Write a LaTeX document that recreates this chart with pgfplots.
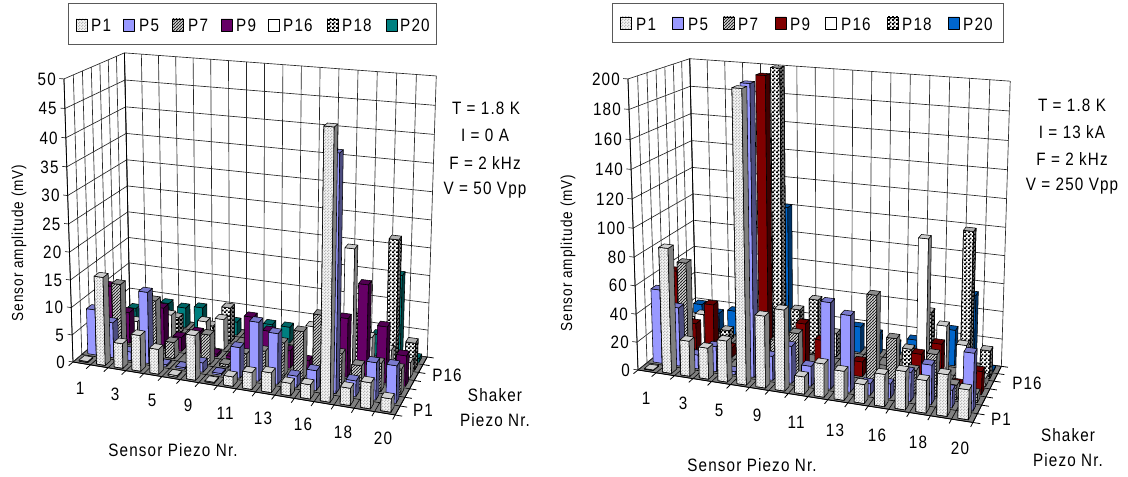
\documentclass[border=0pt]{standalone}
\usepackage{fontspec}
\setmainfont[FakeStretch=0.85,LetterSpace=6.4]{Liberation Sans}
\usepackage{pgfplots}
\pgfplotsset{compat=1.18}
\usetikzlibrary{patterns}
\pgfdeclarepatternformonly{bigcheck}{\pgfqpoint{0bp}{0bp}}{\pgfqpoint{4bp}{4bp}}{\pgfqpoint{4bp}{4bp}}{%
 \pgfpathrectangle{\pgfqpoint{0bp}{0bp}}{\pgfqpoint{2.1bp}{2.1bp}}%
 \pgfpathrectangle{\pgfqpoint{2bp}{2bp}}{\pgfqpoint{2.1bp}{2.1bp}}\pgfusepath{fill}}
\pgfdeclarepatternformonly{smallcheck}{\pgfqpoint{0bp}{0bp}}{\pgfqpoint{3bp}{3bp}}{\pgfqpoint{3bp}{3bp}}{%
 \pgfpathrectangle{\pgfqpoint{0bp}{0bp}}{\pgfqpoint{1.5bp}{1.5bp}}%
 \pgfpathrectangle{\pgfqpoint{1.5bp}{1.5bp}}{\pgfqpoint{1.5bp}{1.5bp}}\pgfusepath{fill}}
\pgfdeclarepatternformonly{hatch}{\pgfqpoint{-1bp}{-1bp}}{\pgfqpoint{4bp}{4bp}}{\pgfqpoint{3bp}{3bp}}{%
 \pgfsetlinewidth{1bp}\pgfpathmoveto{\pgfqpoint{-1bp}{-1bp}}\pgfpathlineto{\pgfqpoint{4bp}{4bp}}\pgfusepath{stroke}}
\definecolor{cP5}{HTML}{9999FF}\definecolor{cP5s}{HTML}{4D4D80}\definecolor{cP5t}{HTML}{7A7ACC}
\definecolor{cA}{HTML}{660066}\definecolor{cAs}{HTML}{330033}\definecolor{cAt}{HTML}{520052}
\definecolor{cB}{HTML}{008080}\definecolor{cBs}{HTML}{004040}\definecolor{cBt}{HTML}{006666}
\definecolor{cC}{HTML}{800000}\definecolor{cCs}{HTML}{400000}\definecolor{cCt}{HTML}{660000}
\definecolor{cD}{HTML}{0066CC}\definecolor{cDs}{HTML}{003366}\definecolor{cDt}{HTML}{0052A3}
\tikzset{
 bx/.style={draw=black,line width=.55bp,line join=round},
 P1f/.style={bx,fill=black!4,postaction={pattern=smallcheck,pattern color=black!28}},
 P1s/.style={bx,fill=black!50},
 P1t/.style={bx,fill=black!18},
 P5f/.style={bx,fill=cP5},P5s/.style={bx,fill=cP5s},P5t/.style={bx,fill=cP5t},
 P7f/.style={bx,fill=white,postaction={pattern=hatch,pattern color=black!85}},
 P7s/.style={bx,fill=black!55},
 P7t/.style={bx,fill=black!45},
 P16f/.style={bx,fill=white},P16s/.style={bx,fill=black!50},P16t/.style={bx,fill=black!20},
 P18f/.style={bx,fill=white,postaction={pattern=bigcheck,pattern color=black}},
 P18s/.style={bx,fill=black!50,postaction={pattern=bigcheck,pattern color=black}},
 P18t/.style={bx,fill=black!30},
 Pxf/.style={bx,fill=cA},Pxs/.style={bx,fill=cAs},Pxt/.style={bx,fill=cAt},
 Pyf/.style={bx,fill=cB},Pys/.style={bx,fill=cBs},Pyt/.style={bx,fill=cBt},
 Puf/.style={bx,fill=cC},Pus/.style={bx,fill=cCs},Put/.style={bx,fill=cCt},
 Pvf/.style={bx,fill=cD},Pvs/.style={bx,fill=cDs},Pvt/.style={bx,fill=cDt},
 gl/.style={draw=black!85,line width=.65bp},
 ed/.style={draw=black,line width=.8bp},
 wall/.style={fill=white,draw=none},
 floorf/.style={fill=black!50,draw=none},
 fl/.style={draw=black,line width=.6bp},
 lbox/.style={draw=black!65,line width=.8bp,fill=white},
 tk/.style={font=\fontsize{18}{20}\selectfont,inner sep=0pt},
 tky/.style={font=\fontsize{16}{20}\selectfont,inner sep=0pt},
}
% projective map of (u,v,z) in the unit cube to picture pixels
\newcommand\PX[3]{\fpeval{round((\Ox+\ca*(#1)*\Ux+\cb*(#2)*\Vx+\cc*(#3)*\Zx)/(1+\ca*(#1)+\cb*(#2)+\cc*(#3)),2)}}
\newcommand\PY[3]{\fpeval{round((\Oy+\ca*(#1)*\Uy+\cb*(#2)*\Vy+\cc*(#3)*\Zy)/(1+\ca*(#1)+\cb*(#2)+\cc*(#3)),2)}}
\newcommand\PT[3]{(\PX{#1}{#2}{#3},\PY{#1}{#2}{#3}) }
\newcommand\Face[2]{\edef\tmp{\noexpand\addplot[#1] coordinates {#2};}\tmp}
\newcount\bi
\newcommand\Bar[3]{% style prefix, v index, value
 \def\ua{((\the\bi+0.25)/17)}\def\ub{((\the\bi+0.75)/17)}%
 \def\va{((#2+0.2)/7)}\def\vb{((#2+0.8)/7)}\def\zz{(#3/\Zm)}%
 \Face{#1f}{\PT\ua\va{0}\PT\ub\va{0}\PT\ub\va\zz\PT\ua\va\zz\PT\ua\va{0}}%
 \Face{#1s}{\PT\ub\va{0}\PT\ub\vb{0}\PT\ub\vb\zz\PT\ub\va\zz\PT\ub\va{0}}%
 \Face{#1t}{\PT\ua\va\zz\PT\ub\va\zz\PT\ub\vb\zz\PT\ua\vb\zz\PT\ua\va\zz}%
}
\newcommand\Row[3]{\global\bi=0
 \pgfplotsforeachungrouped \h in {#3}{%
  \ifdim\h pt>0pt \Bar{#1}{#2}{\h}\fi
  \global\advance\bi by 1 }}
\newcommand\Frame{%
 \Face{wall}{\PT000\PT010\PT011\PT001\PT000}%
 \Face{wall}{\PT010\PT110\PT111\PT011\PT010}%
 \Face{floorf}{\PT000\PT100\PT110\PT010\PT000}%
 \pgfplotsforeachungrouped \i in {0,...,17}{%
  \Face{gl}{\PT{\i/17}{1}{0}\PT{\i/17}{1}{1}}%
  \Face{fl}{\PT{\i/17}{0}{0}\PT{\i/17}{1}{0}}%
  \Face{ed}{\PT{\i/17}{0}{0}\PT{\i/17}{-0.07}{0}}}%
 \pgfplotsforeachungrouped \i in {0,...,7}{%
  \Face{gl}{\PT{0}{\i/7}{0}\PT{0}{\i/7}{1}}%
  \Face{fl}{\PT{0}{\i/7}{0}\PT{1}{\i/7}{0}}%
  \Face{ed}{\PT{1}{\i/7}{0}\PT{1.02}{\i/7}{0}}}%
 \pgfplotsforeachungrouped \i in {0,...,10}{%
  \Face{gl}{\PT{-0.015}{0}{\i/10}\PT{0}{0}{\i/10}\PT{0}{1}{\i/10}\PT{1}{1}{\i/10}}%
  \pgfmathtruncatemacro\lab{\i*\Zm/10}%
  \edef\tmp{\noexpand\node[tk,anchor=east] at (axis cs:\fpeval{\PX{0}{0}{\i/10}-8},\PY{0}{0}{\i/10}) {\lab};}\tmp}%
 \Face{ed}{\PT000\PT001}\Face{ed}{\PT000\PT100}\Face{ed}{\PT100\PT110}\Face{ed}{\PT010\PT011}%
}
\newcommand\Swatch[3]{\addplot[#1f] coordinates {(#2,#3)(#2+11,#3)(#2+11,#3+12.5)(#2,#3+12.5)(#2,#3)};}
\begin{document}
\begin{tikzpicture}
\useasboundingbox (0,0) rectangle (1128bp,477bp);
\begin{axis}[at={(0,0)},anchor=south west,scale only axis,width=1128bp,height=477bp,
 xmin=0,xmax=1128,ymin=0,ymax=477,enlargelimits=false,y dir=reverse,hide axis,clip=false]
% ---------- left chart
\def\Ox{73}\def\Oy{362}\def\Ux{-3386}\def\Uy{-207}\def\Vx{742}\def\Vy{-213}\def\Zx{249}\def\Zy{5880}
\def\ca{-0.0852}\def\cb{0.0931}\def\cc{-0.0488}\def\Zm{50}
\Frame
\Row{Py}{6}{2.3,0,4.2,3.8,4.3,0,2.5,0,3,3,0,0,0,0,4,15.4,0.7}
\Row{P18}{5}{0,0,0,3.2,0,2.6,6.5,0,0,0,0,0,0,8.8,0,22.9,4.9}
\Row{P16}{4}{0,2.8,0,5,0,4.7,5.6,0,0,0,0,6.7,0,21.6,6.3,4.5,2.8}
\Row{Px}{3}{10.3,5.8,0,7.6,2.6,4,0.5,0.5,8.3,6.2,3.2,1.9,0,10.5,16.9,10,5.4}
\Row{P7}{2}{0,12.3,0,10.2,3,0,5.4,0.5,3,4,6,8.5,11.9,5.6,4,5,4.5}
\Row{P5}{1}{8.4,6.5,1.6,13,0.3,0.3,1.7,0.3,5.5,10.5,9,2,3.5,40.8,2.8,6.5,6.5}
\Row{P1}{0}{0.2,16,4.5,6.5,4.5,0.3,8,0.2,1.7,3,3.5,2.2,2.5,45.8,3,4.5,2.3}
% ---------- right chart
\def\Ox{638}\def\Oy{370}\def\Ux{-3000}\def\Uy{-200}\def\Vx{1250}\def\Vy{-125}\def\Zx{829}\def\Zy{5912}
\def\ca{-0.0843}\def\cb{0.1047}\def\cc{-0.0499}\def\Zm{200}
\Frame
\Row{Pv}{6}{19.6,14.7,18,0,25,100.7,16,0,0,19,15.7,10.3,15,0,26,53,1}
\Row{P18}{5}{15,0,8,0,0,202,31,40,17.4,0,0,0,13.3,42,0,102,20}
\Row{P16}{4}{0,23,0,0,0,0,0,0,0,0,0,0,0,97.6,38.7,27,6}
\Row{Pu}{3}{58,21,36.7,7,0,201,0,32,22,0,10.6,3,0,22,31,5,16}
\Row{P7}{2}{0,69.6,0,0,0,0,23,30,0,0,0,64,36,16,29,10,6}
\Row{P5}{1}{53,42,10,18,2,200,17,26,14,60,53,8,10,20,27,12,39}
\Row{P1}{0}{0.5,88,25,22,29,199,50,56,12,23,20,13,22,26,22,28,20}
% ---------- legends
\addplot[lbox] coordinates {(68,3)(436,3)(436,44)(68,44)(68,3)};
\addplot[lbox] coordinates {(612,3)(1003,3)(1003,42)(612,42)(612,3)};
\Swatch{P1}{76}{19}\Swatch{P5}{123}{19}\Swatch{P7}{172}{19}\Swatch{Px}{221}{19}\Swatch{P16}{268}{19}\Swatch{P18}{327}{19}\Swatch{Py}{386}{19}
\Swatch{P1}{620}{17}\Swatch{P5}{672}{17}\Swatch{P7}{723}{17}\Swatch{Pu}{775}{17}\Swatch{P16}{825}{17}\Swatch{P18}{887}{17}\Swatch{Pv}{948}{17}
\foreach \x/\t in {91/P1,139/P5,188/P7,236/P9,283/P16,342/P18,400/P20}{
 \edef\tmp{\noexpand\node[tk,anchor=west] at (axis cs:\x,25) {\t};}\tmp}
\foreach \x/\t in {636/P1,688/P5,738/P7,790/P9,841/P16,902/P18,963/P20}{
 \edef\tmp{\noexpand\node[tk,anchor=west] at (axis cs:\x,24) {\t};}\tmp}
% ---------- texts
\foreach \x/\y/\t in {80/388/1,115/394/3,152/400/5,188/405/9,225/413/11,263/418/13,303/424/16,343/432/18,383/438/20,
 646/398/1,683/403/3,719/410/5,757/415/9,796/422/11,835/430/13,877/435/16,918/442/18,960/448/20,
 447/375/P16,423/410/P1,1027/383/P16,1001/419/P1,
 495/395/Shaker,495/420/{Piezo Nr.},1068/435/Shaker,1068/460/{Piezo Nr.},
 173/450/{Sensor Piezo Nr.},752/465/{Sensor Piezo Nr.},
 486/108/{T = 1.8 K},485/135/{I = 0 A},485/163/{F = 2 kHz},485/190/{V = 50 Vpp},
 1072/105/{T = 1.8 K},1072/132/{I = 13 kA},1072/159/{F = 2 kHz},1072/186/{V = 250 Vpp}}{
 \edef\tmp{\noexpand\node[tk] at (axis cs:\x,\y) {\t};}\tmp}
\node[tky,rotate=90] at (axis cs:19,243) {Sensor amplitude (mV)};
\node[tky,rotate=90] at (axis cs:568,253) {Sensor amplitude (mV)};
\end{axis}
\end{tikzpicture}
\end{document}
